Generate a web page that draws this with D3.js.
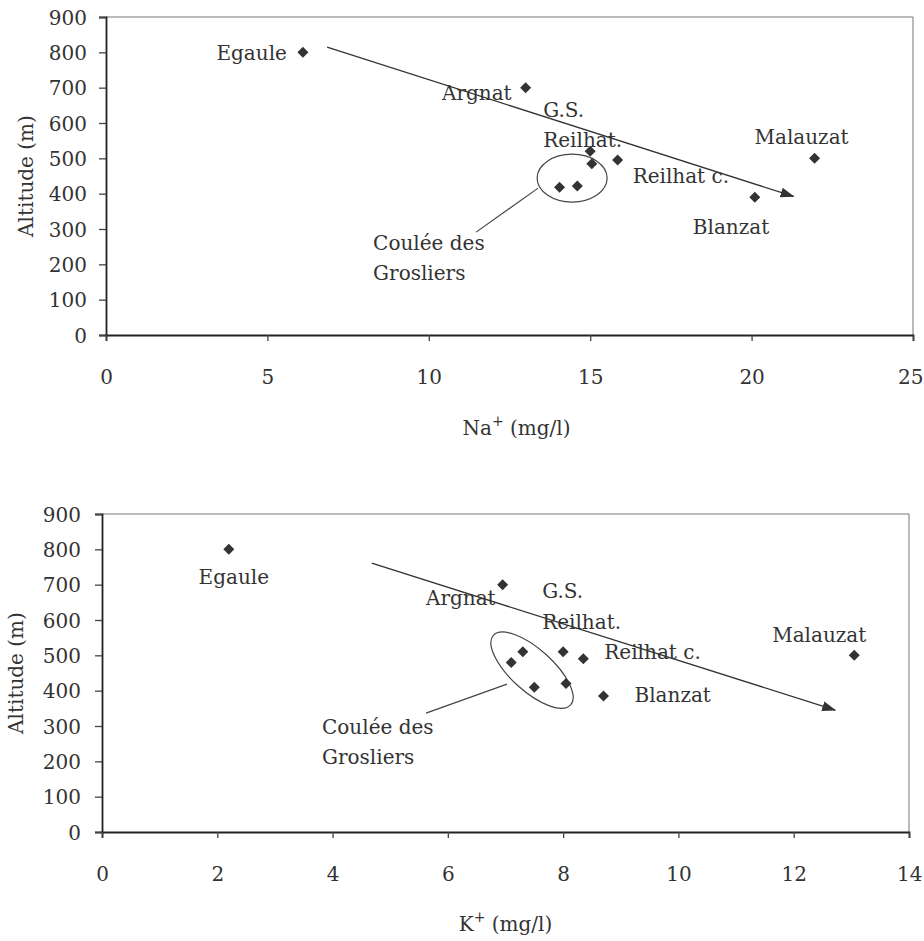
<!DOCTYPE html>
<html>
<head>
<meta charset="utf-8">
<script src="https://cdn.jsdelivr.net/npm/d3@7"></script>
<style>
  body { margin: 0; background: #fff; }
  text { font-family: "DejaVu Serif", "Liberation Serif", serif; fill: #333; }
</style>
</head>
<body>
<script>
// altitude axis shared by both panels
var altTicks = [0, 100, 200, 300, 400, 500, 600, 700, 800, 900];

// Na+ panel
var naTicks = [0, 5, 10, 15, 20, 25];
var naSites = ['Egaule', 'Argnat', 'G.S.', 'Reilhat.', 'Reilhat c.', 'Grosliers', 'Grosliers', 'Blanzat', 'Malauzat'];
var naValues = [6.1, 13.0, 15.0, 15.05, 15.85, 14.05, 14.6, 20.1, 21.95];
var naAltitude = [800, 700, 520, 485, 495, 418, 422, 390, 500];
var naTrend = [[6.85, 815], [21.3, 392]];
var naGroupCenter = [14.44, 444];

// K+ panel
var kTicks = [0, 2, 4, 6, 8, 10, 12, 14];
var kSites = ['Egaule', 'Argnat', 'G.S.', 'Reilhat c.', 'Grosliers', 'Grosliers', 'Grosliers', 'Grosliers', 'Blanzat', 'Malauzat'];
var kValues = [2.2, 6.95, 8.0, 8.35, 7.1, 7.3, 7.5, 8.05, 8.7, 13.05];
var kAltitude = [800, 700, 510, 490, 480, 510, 410, 420, 385, 500];
var kTrend = [[4.68, 761], [12.72, 345]];
var kGroupCenter = [7.46, 458];

var svg = d3.select('body').append('svg')
  .attr('width', 924)
  .attr('height', 941);

var defs = svg.append('defs');
defs.append('marker')
  .attr('id', 'arrow')
  .attr('viewBox', '0 0 14 10')
  .attr('refX', 13)
  .attr('refY', 5)
  .attr('markerWidth', 14)
  .attr('markerHeight', 10)
  .attr('markerUnits', 'userSpaceOnUse')
  .attr('orient', 'auto')
  .append('path')
  .attr('d', 'M0,0L14,5L0,10Z')
  .attr('fill', '#333');

var diamond = 'M0,-5.5L5.5,0L0,5.5L-5.5,0Z';

function drawPanel (opts) {
  var w = opts.width;
  var h = opts.height;
  var g = svg.append('g')
    .attr('transform', 'translate(' + opts.left + ',' + opts.top + ')');

  var x = d3.scaleLinear().domain(opts.xDomain).range([0, w]);
  var y = d3.scaleLinear().domain([0, 900]).range([h, 0]);

  // thin frame on top and right
  g.append('path')
    .attr('d', 'M0,0H' + w + 'V' + h)
    .attr('fill', 'none')
    .attr('stroke', '#777')
    .attr('stroke-width', 1);

  var yAxis = g.append('g')
    .call(d3.axisLeft(y).tickValues(altTicks).tickSize(7).tickPadding(opts.yPad).tickFormat(d3.format('d')));
  var xAxis = g.append('g')
    .attr('transform', 'translate(0,' + h + ')')
    .call(d3.axisBottom(x).tickValues(opts.xTicks).tickSize(6).tickPadding(29).tickFormat(d3.format('d')));

  [xAxis, yAxis].forEach(function (a) {
    a.select('.domain').attr('stroke', '#222').attr('stroke-width', 1.8);
    a.selectAll('.tick line').attr('stroke', '#444').attr('stroke-width', 1.3);
    a.selectAll('.tick text').attr('font-size', 20).attr('fill', '#333')
      .attr('font-family', '"DejaVu Serif", serif');
  });
  yAxis.selectAll('.tick text').attr('dy', '0.36em');
  // keep the last x label inside the picture
  xAxis.selectAll('.tick text')
    .filter(function (d) { return d === opts.xDomain[1]; })
    .attr('text-anchor', 'end')
    .attr('dx', opts.lastDx);

  // axis titles
  g.append('text')
    .attr('transform', 'translate(' + opts.yTitleX + ',' + (h / 2) + ') rotate(-90)')
    .attr('text-anchor', 'middle')
    .attr('dominant-baseline', 'middle')
    .attr('font-size', 20)
    .text('Altitude (m)');

  var xt = g.append('text')
    .attr('x', w / 2 + opts.xTitleDx)
    .attr('y', h + opts.xTitleDy)
    .attr('text-anchor', 'middle')
    .attr('font-size', 20);
  xt.append('tspan').text(opts.ion);
  xt.append('tspan').attr('dy', -9).attr('font-size', 14).text('+');
  xt.append('tspan').attr('dy', 9).text(' (mg/l)');

  // trend arrow
  g.append('line')
    .attr('x1', x(opts.trend[0][0]))
    .attr('y1', y(opts.trend[0][1]))
    .attr('x2', x(opts.trend[1][0]))
    .attr('y2', y(opts.trend[1][1]))
    .attr('stroke', '#333')
    .attr('stroke-width', 1.3)
    .attr('marker-end', 'url(#arrow)');

  // group ellipse, leader and label
  var cx = x(opts.group[0]);
  var cy = y(opts.group[1]);
  g.append('ellipse')
    .attr('transform', 'translate(' + cx + ',' + cy + ') rotate(' + opts.ellipse.angle + ')')
    .attr('rx', opts.ellipse.rx)
    .attr('ry', opts.ellipse.ry)
    .attr('fill', 'none')
    .attr('stroke', '#444')
    .attr('stroke-width', 1.2);
  g.append('line')
    .attr('x1', cx + opts.leader[0][0])
    .attr('y1', cy + opts.leader[0][1])
    .attr('x2', cx + opts.leader[1][0])
    .attr('y2', cy + opts.leader[1][1])
    .attr('stroke', '#444')
    .attr('stroke-width', 1.2);
  var gl = g.append('text')
    .attr('x', cx + opts.groupLabel[0])
    .attr('y', cy + opts.groupLabel[1])
    .attr('font-size', 20);
  gl.append('tspan').attr('x', cx + opts.groupLabel[0]).attr('dy', '0.35em').text('Coulée des');
  gl.append('tspan').attr('x', cx + opts.groupLabel[0]).attr('dy', 30).text('Grosliers');

  // points
  var pts = opts.values.map(function (v, i) {
    return { site: opts.sites[i], x: v, y: opts.alt[i] };
  });
  g.selectAll('.pt')
    .data(pts)
    .enter()
    .append('path')
    .attr('class', 'pt')
    .attr('d', diamond)
    .attr('fill', '#333')
    .attr('transform', function (d) { return 'translate(' + x(d.x) + ',' + y(d.y) + ')'; });

  // site labels (offsets in px from their point)
  g.selectAll('.lbl')
    .data(opts.labels)
    .enter()
    .append('text')
    .attr('class', 'lbl')
    .attr('x', function (d) { return x(opts.values[d.i]) + d.dx; })
    .attr('y', function (d) { return y(opts.alt[d.i]) + d.dy; })
    .attr('dy', '0.35em')
    .attr('text-anchor', function (d) { return d.anchor || 'start'; })
    .attr('font-size', 20)
    .text(function (d) { return d.text; });
}

drawPanel({
  left: 106, top: 17, width: 807, height: 318,
  xDomain: [0, 25], xTicks: naTicks, yPad: 12, lastDx: 10,
  yTitleX: -79, xTitleDx: 7, xTitleDy: 100,
  ion: 'Na',
  sites: naSites, values: naValues, alt: naAltitude,
  trend: naTrend, group: naGroupCenter,
  ellipse: { rx: 35, ry: 24, angle: 0 },
  leader: [[-96, 54], [-34, 10]],
  groupLabel: [-199, 65],
  labels: [
    { i: 0, text: 'Egaule', dx: -16, dy: 1, anchor: 'end' },
    { i: 1, text: 'Argnat', dx: -14, dy: 5, anchor: 'end' },
    { i: 2, text: 'G.S.', dx: -47, dy: -41 },
    { i: 2, text: 'Reilhat.', dx: -47, dy: -11 },
    { i: 4, text: 'Reilhat c.', dx: 15, dy: 16 },
    { i: 7, text: 'Blanzat', dx: -62, dy: 30 },
    { i: 8, text: 'Malauzat', dx: -13, dy: -21, anchor: 'middle' }
  ]
});

drawPanel({
  left: 102, top: 514, width: 807, height: 318,
  xDomain: [0, 14], xTicks: kTicks, yPad: 14, lastDx: 13,
  yTitleX: -85, xTitleDx: 0, xTitleDy: 99,
  ion: 'K',
  sites: kSites, values: kValues, alt: kAltitude,
  trend: kTrend, group: kGroupCenter,
  ellipse: { rx: 52, ry: 21, angle: 42 },
  leader: [[-106, 43], [-25, 14]],
  groupLabel: [-210, 57],
  labels: [
    { i: 0, text: 'Egaule', dx: 5, dy: 28, anchor: 'middle' },
    { i: 1, text: 'Argnat', dx: -7, dy: 13, anchor: 'end' },
    { i: 2, text: 'G.S.', dx: -21, dy: -61 },
    { i: 2, text: 'Reilhat.', dx: -21, dy: -30 },
    { i: 3, text: 'Reilhat c.', dx: 21, dy: -7 },
    { i: 8, text: 'Blanzat', dx: 31, dy: -1 },
    { i: 9, text: 'Malauzat', dx: -35, dy: -20, anchor: 'middle' }
  ]
});
</script>
</body>
</html>
